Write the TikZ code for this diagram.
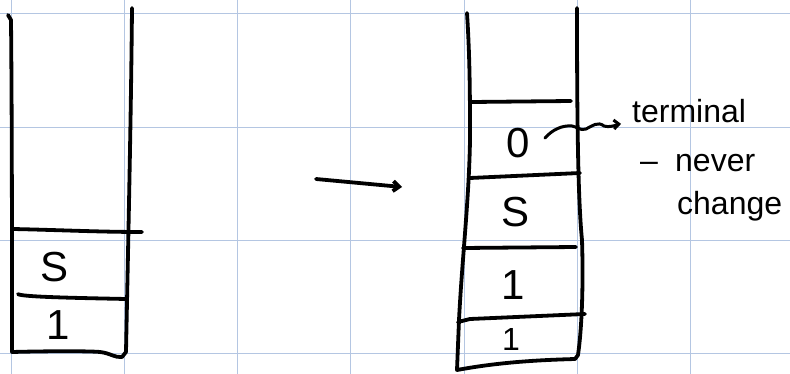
\documentclass[tikz,border=0pt]{standalone}
\usepackage{fontspec}
\setmainfont{Liberation Sans}
\usetikzlibrary{arrows.meta}
\definecolor{gridblue}{RGB}{180,198,226}
\tikzset{
  pen/.style={line width=3.8pt, line cap=round, line join=round, black},
  thinpen/.style={line width=3pt, line cap=round, line join=round, black},
  gridline/.style={gridblue, line width=1pt},
  cell/.style={inner sep=0pt, font=\fontsize{42}{42}\selectfont},
  smallcell/.style={inner sep=0pt, font=\fontsize{32}{32}\selectfont},
  note/.style={inner sep=0pt, anchor=base west, font=\fontsize{32}{32}\selectfont}
}
\begin{document}
\begin{tikzpicture}[x=1pt,y=-1pt]
\useasboundingbox (0,0) rectangle (790,374);
\fill[white] (0,0) rectangle (790,374);
% grid
\foreach \gx in {11,124.3,237.6,350.9,464.2,577.5,690.8} \draw[gridline] (\gx,0) -- (\gx,374);
\foreach \gy in {14,127.3,240.6,353.9} \draw[gridline] (0,\gy) -- (790,\gy);

% ---------- left stack ----------
\draw[pen] (8,15) -- (11,20) .. controls (12,120) and (12,250) .. (12,352)
  .. controls (50,351) and (90,351) .. (100,352) .. controls (110,353) and (115,358) .. (122,357)
  -- (126,352) .. controls (128,250) and (131,120) .. (132,8);
\draw[pen] (13,229) .. controls (60,230) and (100,232) .. (142,232);
\draw[pen] (18,294) .. controls (20,297) and (80,298) .. (126,299);
\node[cell] (ls) at (55,267) {S};
\node[cell] (l1) at (58,325) {1};

% ---------- arrow ----------
\coordinate (a1) at (316,179);
\coordinate (a2) at (402,187);
\draw[pen, -{Straight Barb[length=6pt,width=10pt]}] (a1) -- (a2);

% ---------- right stack ----------
\draw[pen] (467,13) .. controls (470,60) and (470,100) .. (470,140)
  .. controls (469,200) and (462,260) .. (459,320) -- (457,370)
  .. controls (500,362) and (540,360) .. (575,359) -- (578,355)
  .. controls (583,320) and (583,270) .. (582,240)
  .. controls (578,200) and (577,120) .. (577,8);
\draw[pen] (472,102) -- (571,101);
\draw[pen] (470,178) -- (580,173);
\draw[pen] (463,248) -- (576,247);
\draw[pen] (458,322) -- (470,319) -- (585,314);
\node[cell] (r0) at (518,143) {0};
\node[cell] (rs) at (516,212) {S};
\node[cell] (r1) at (513,285) {1};
\node[smallcell] (r1b) at (511,339) {1};

% ---------- annotation ----------
\node[note] (term) at (632,123) {terminal};
\node[note] (dash) at (640,172) {–};
\node[note] (never) at (675,172) {never};
\node[note] (change) at (677,215) {change};
\draw[thinpen, shorten >=11pt, -{Straight Barb[length=5pt,width=9pt]}] (545,138)
  .. controls (552,130) and (562,125) .. (572,126)
  .. controls (578,127) and (580,131) .. (586,129)
  .. controls (592,126) and (598,121) .. (604,126)
  .. controls (610,128) and (620,124) .. (term.base west);
\end{tikzpicture}
\end{document}
